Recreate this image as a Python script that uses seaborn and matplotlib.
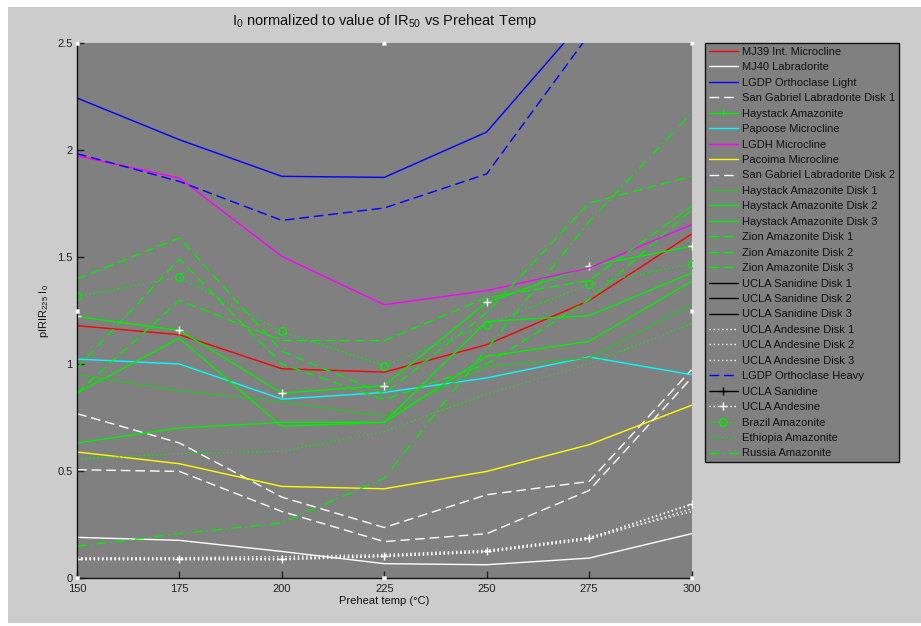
import numpy as np
import pandas as pd
import matplotlib
matplotlib.use("Agg")
import matplotlib.pyplot as plt
from matplotlib.lines import Line2D
from matplotlib.patches import Rectangle
import seaborn as sns

# Preheat temperatures (deg C)
temps = [150, 175, 200, 225, 250, 275, 300]

# I0 normalised values per sample
mj39_int_microcline = [1.179, 1.137, 0.978, 0.962, 1.090, 1.296, 1.607]
mj40_labradorite = [0.190, 0.176, 0.124, 0.067, 0.062, 0.093, 0.207]
lgdp_orthoclase_light = [2.243, 2.048, 1.877, 1.872, 2.084, 2.635, 3.200]
san_gabriel_disk1 = [0.768, 0.631, 0.378, 0.236, 0.389, 0.451, 0.973]
haystack = [1.222, 1.157, 0.864, 0.899, 1.288, 1.458, 1.550]
papoose_microcline = [1.023, 1.000, 0.836, 0.867, 0.935, 1.033, 0.950]
lgdh_microcline = [1.973, 1.869, 1.503, 1.277, 1.343, 1.449, 1.651]
pacoima_microcline = [0.589, 0.534, 0.428, 0.417, 0.498, 0.623, 0.807]
san_gabriel_disk2 = [0.506, 0.498, 0.311, 0.170, 0.207, 0.409, 0.935]
haystack_disk1 = [0.950, 0.875, 0.823, 0.755, 0.989, 1.028, 1.277]
haystack_disk2 = [0.631, 0.701, 0.727, 0.727, 1.036, 1.106, 1.386]
haystack_disk3 = [0.864, 1.121, 0.709, 0.727, 1.199, 1.226, 1.425]
zion_disk1 = [1.397, 1.589, 1.060, 0.860, 1.240, 1.752, 1.877]
zion_disk2 = [0.864, 1.297, 1.110, 1.109, 1.310, 1.390, 1.737]
zion_disk3 = [0.981, 1.490, 1.000, 0.833, 1.000, 1.300, 1.720]
ucla_sanidine_disk1 = [np.nan] * 7
ucla_sanidine_disk2 = [np.nan] * 7
ucla_sanidine_disk3 = [np.nan] * 7
ucla_andesine_disk1 = [0.085, 0.085, 0.085, 0.100, 0.120, 0.180, 0.323]
ucla_andesine_disk2 = [0.090, 0.090, 0.090, 0.105, 0.125, 0.185, 0.342]
ucla_andesine_disk3 = [0.095, 0.095, 0.100, 0.110, 0.130, 0.190, 0.310]
lgdp_orthoclase_heavy = [1.983, 1.853, 1.671, 1.729, 1.888, 2.540, 3.200]
ucla_sanidine = [np.nan] * 7
ucla_andesine = [0.090, 0.090, 0.090, 0.101, 0.124, 0.187, 0.346]
brazil = [1.316, 1.405, 1.152, 0.992, 1.184, 1.372, 1.467]
ethiopia = [0.556, 0.581, 0.592, 0.685, 0.860, 1.001, 1.188]
russia = [0.148, 0.207, 0.257, 0.467, 1.070, 1.665, 2.173]

labels = [
    "MJ39 Int. Microcline", "MJ40 Labradorite", "LGDP Orthoclase Light",
    "San Gabriel Labradorite Disk 1", "Haystack Amazonite", "Papoose Microcline",
    "LGDH Microcline", "Pacoima Microcline", "San Gabriel Labradorite Disk 2",
    "Haystack Amazonite Disk 1", "Haystack Amazonite Disk 2", "Haystack Amazonite Disk 3",
    "Zion Amazonite Disk 1", "Zion Amazonite Disk 2", "Zion Amazonite Disk 3",
    "UCLA Sanidine Disk 1", "UCLA Sanidine Disk 2", "UCLA Sanidine Disk 3",
    "UCLA Andesine Disk 1", "UCLA Andesine Disk 2", "UCLA Andesine Disk 3",
    "LGDP Orthoclase Heavy", "UCLA Sanidine", "UCLA Andesine",
    "Brazil Amazonite", "Ethiopia Amazonite", "Russia Amazonite",
]
series = [
    mj39_int_microcline, mj40_labradorite, lgdp_orthoclase_light,
    san_gabriel_disk1, haystack, papoose_microcline,
    lgdh_microcline, pacoima_microcline, san_gabriel_disk2,
    haystack_disk1, haystack_disk2, haystack_disk3,
    zion_disk1, zion_disk2, zion_disk3,
    ucla_sanidine_disk1, ucla_sanidine_disk2, ucla_sanidine_disk3,
    ucla_andesine_disk1, ucla_andesine_disk2, ucla_andesine_disk3,
    lgdp_orthoclase_heavy, ucla_sanidine, ucla_andesine,
    brazil, ethiopia, russia,
]

DASH = (7, 3.5)
DOT = (1, 2)
DASHDOT = (7, 3, 1, 3)
GREEN = "#00ee00"
GREEN_DIM = "#33bb33"
styles = [
    ("#ff0000", None, None), ("#ffffff", None, None), ("#0000ff", None, None),
    ("#ffffff", DASH, None), (GREEN, None, "+"), ("#00ffff", None, None),
    ("#ff00ff", None, None), ("#ffff00", None, None), ("#ffffff", DASH, None),
    (GREEN_DIM, None, None), (GREEN, None, None), (GREEN, None, None),
    (GREEN, DASH, None), (GREEN, DASH, None), (GREEN, DASH, None),
    ("#000000", None, None), ("#000000", None, None), ("#000000", None, None),
    ("#ffffff", DOT, None), ("#ffffff", DOT, None), ("#ffffff", DOT, None),
    ("#0000ff", DASH, None), ("#000000", None, "+"), ("#ffffff", DOT, "+"),
    (GREEN, DOT, "o"), (GREEN, DOT, None), (GREEN, DASHDOT, None),
]

sns.set_theme(style="white")
plt.rcParams["font.family"] = ["Liberation Sans", "DejaVu Sans"]
plt.rcParams["mathtext.fontset"] = "custom"
plt.rcParams["mathtext.rm"] = "Liberation Sans"
plt.rcParams["mathtext.it"] = "Liberation Sans"

W, H = 921, 626
fig = plt.figure(figsize=(W / 100, H / 100), dpi=100, facecolor="white")
fig.patches.append(Rectangle((8 / W, 3 / H), 1 - 8 / W, (H - 10) / H,
                             transform=fig.transFigure, facecolor="#cccccc",
                             edgecolor="none", zorder=-10))
ax = fig.add_axes([77 / W, 1 - 578 / H, (691.5 - 77) / W, (578 - 43) / H])
ax.set_facecolor("#808080")

LW = 1.0
handles = []
for name, vals, (col, dash, mk) in zip(labels, series, styles):
    df = pd.DataFrame({"temp": temps, "value": vals})
    kw = dict(color=col, lw=LW)
    if dash is not None:
        kw["dashes"] = dash
    if mk is not None:
        kw["marker"] = mk
        kw["markersize"] = 5.5
        kw["markeredgewidth"] = 1.0
        if mk == "o":
            kw["markerfacecolor"] = "none"
            kw["markeredgecolor"] = col
    if df["value"].notna().any():
        sns.lineplot(data=df, x="temp", y="value", ax=ax, estimator=None,
                     sort=False, legend=False, **kw)
    h = Line2D([], [], color=col, lw=LW,
               marker=mk if mk else "None",
               markersize=kw.get("markersize", 0),
               markerfacecolor="none" if mk == "o" else col,
               markeredgecolor=col)
    if dash is not None:
        h.set_dashes(dash)
    handles.append(h)

ax.set_xlim(150, 300)
ax.set_ylim(0, 2.5)
ax.set_xticks(temps)
ax.set_yticks([0, 0.5, 1, 1.5, 2, 2.5])
ax.set_yticklabels(["0", "0.5", "1", "1.5", "2", "2.5"])
ax.tick_params(direction="in", length=5, width=1, colors="#222222",
               labelsize=8, left=True, bottom=True)
ax.tick_params(axis="x", pad=4)
ax.tick_params(axis="y", pad=3)
for side in ["top", "right"]:
    ax.spines[side].set_visible(False)
for side in ["left", "bottom"]:
    ax.spines[side].set_color("#111111")
    ax.spines[side].set_linewidth(1.0)

ax.set_title(r"I$_0$ normalized to value of IR$_{50}$ vs Preheat Temp",
             fontsize=10.5, color="#111111", pad=13)
ax.set_xlabel("Preheat temp (\u00b0C)", fontsize=8, color="#111111", labelpad=2)
ax.set_ylabel(r"pIRIR$_{225}$ I$_0$", fontsize=8, color="#111111", labelpad=5)

# axes selection handles
hx = [0, 0.5, 1, 0, 1, 0, 0.5, 1]
hy = [1, 1, 1, 0.5, 0.5, 0, 0, 0]
ax.plot(hx, hy, ls="none", marker="s", ms=3.5, color="white", mec="#cccccc",
        mew=0.5, transform=ax.transAxes, clip_on=False, zorder=10)

leg = ax.legend(handles, labels, loc="upper left",
                bbox_to_anchor=(705 / W, 1 - 43 / H), bbox_transform=fig.transFigure,
                borderaxespad=0, frameon=True, fancybox=False, framealpha=1,
                facecolor="#808080", edgecolor="#111111", fontsize=8,
                handlelength=2.6, handletextpad=0.4, labelspacing=0.49,
                borderpad=0.35)
leg.get_frame().set_linewidth(1.0)
for t in leg.get_texts():
    t.set_color("#111111")

fig.savefig("out.png", dpi=100, facecolor=fig.get_facecolor())
